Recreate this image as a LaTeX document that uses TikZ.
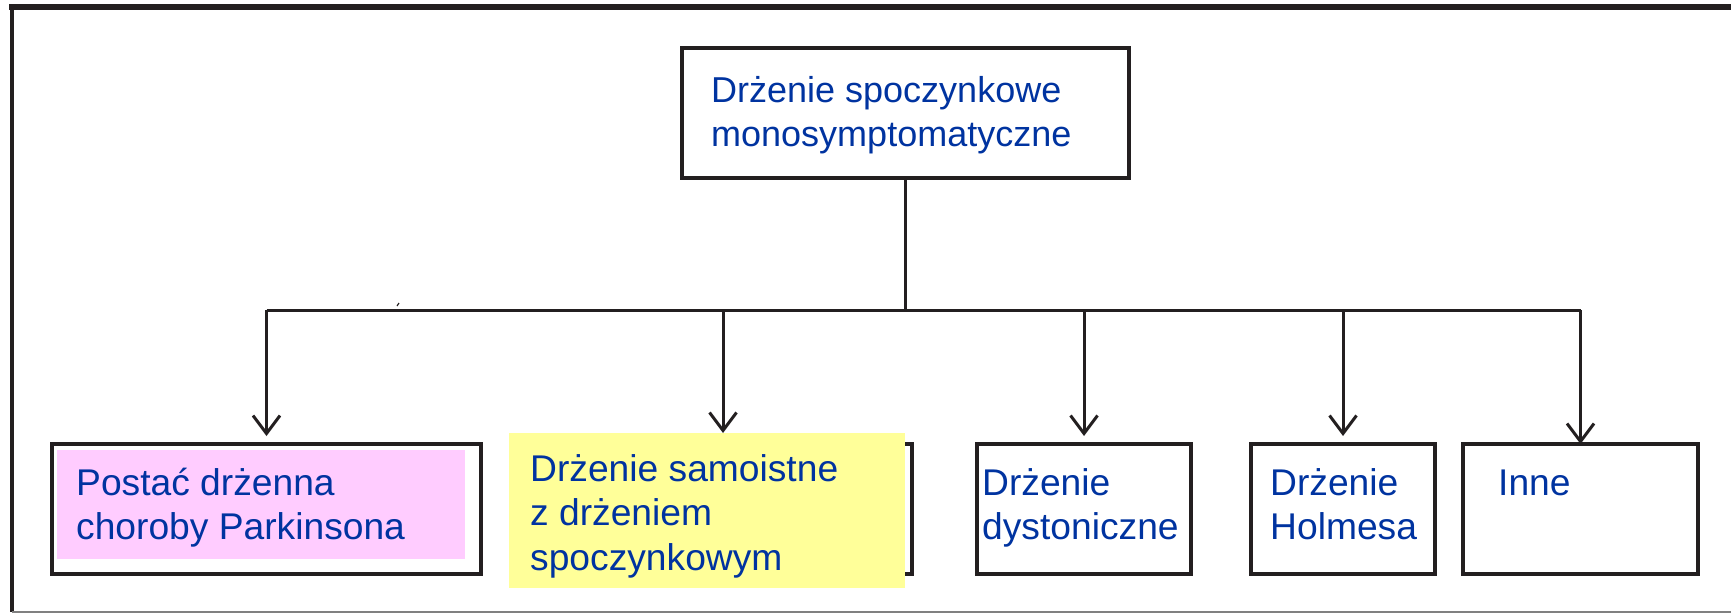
\documentclass[tikz,border=0pt]{standalone}
\usepackage{fontspec}
\setmainfont{Liberation Sans}
\usetikzlibrary{arrows.meta}
\definecolor{txtblue}{RGB}{0,51,160}
\definecolor{pinkfill}{RGB}{255,204,255}
\definecolor{yellowfill}{RGB}{255,255,153}
\definecolor{linegray}{RGB}{35,31,32}
\newcommand\diagfont{\fontsize{36}{44.5}\selectfont}
\newcommand\diagfontb{\fontsize{37.2}{44.5}\selectfont}
\begin{document}
\begin{tikzpicture}[x=1pt,y=-1pt,
  boxnode/.style={draw=linegray,line width=3.2pt,inner sep=0pt,outer sep=0pt},
  fillnode/.style={inner sep=0pt,outer sep=0pt},
  label/.style={font=\diagfont,text=txtblue,inner sep=0pt,anchor=north west,align=left},
  labelb/.style={label,font=\diagfontb},
  conn/.style={draw=linegray,line width=3pt},
  arr/.style={conn,-{Straight Barb[length=18pt,width=27pt,line width=3pt]}}
]
\useasboundingbox (0,0) rectangle (1731,613);
% frame
\draw[linegray,line width=6pt] (9,7) -- (1731,7);
\draw[linegray,line width=4pt] (12,5) -- (12,612);
\draw[gray,line width=1.5pt] (12,612) -- (1731,612);
% boxes
\node[boxnode,minimum width=447pt,minimum height=130pt] (top) at (905.5,113) {};
\node[boxnode,minimum width=429pt,minimum height=130pt] (b1) at (266.5,509) {};
\node[fillnode,fill=pinkfill,minimum width=408pt,minimum height=109pt] (pink) at (261,504) {};
\node[boxnode,minimum width=378pt,minimum height=130pt] (b2) at (723,509) {};
\node[fillnode,fill=yellowfill,minimum width=396pt,minimum height=155pt] (yellow) at (707,510.5) {};
\node[boxnode,minimum width=214pt,minimum height=130pt] (b3) at (1084,509) {};
\node[boxnode,minimum width=184pt,minimum height=130pt] (b4) at (1343,509) {};
\node[boxnode,minimum width=235pt,minimum height=130pt] (b5) at (1580.5,509) {};
% texts
\node[label] (t0) at (711,72) {\rule{0pt}{30pt}Drżenie spoczynkowe\\monosymptomatyczne};
\node[labelb] (t1) at (76,465) {\rule{0pt}{30pt}Postać drżenna\\choroby Parkinsona};
\node[labelb] (t2) at (530,451) {\rule{0pt}{30pt}Drżenie samoistne\\z drżeniem\\spoczynkowym};
\node[labelb] (t3) at (982,465) {\rule{0pt}{30pt}Drżenie\\dystoniczne};
\node[labelb] (t4) at (1270,465) {\rule{0pt}{30pt}Drżenie\\Holmesa};
\node[labelb] (t5) at (1498,465) {\rule{0pt}{30pt}Inne};
% connectors
\coordinate (bus) at (905.5,310);
\draw[conn] (top.south) -- (bus);
\draw[conn] (b1.north |- bus) -- (b5.north |- bus);
\draw[arr,shorten >=8pt] (b1.north |- bus) -- (b1.north);
\draw[arr] (b2.north |- bus) -- (yellow.north -| b2.north);
\draw[arr,shorten >=8pt] (b3.north |- bus) -- (b3.north);
\draw[arr,shorten >=8pt] (b4.north |- bus) -- (b4.north);
\draw[arr] (b5.north |- bus) -- (b5.north);
% small stray mark
\draw[linegray,line width=1.2pt] (397,306) -- (399,303);
\end{tikzpicture}
\end{document}
